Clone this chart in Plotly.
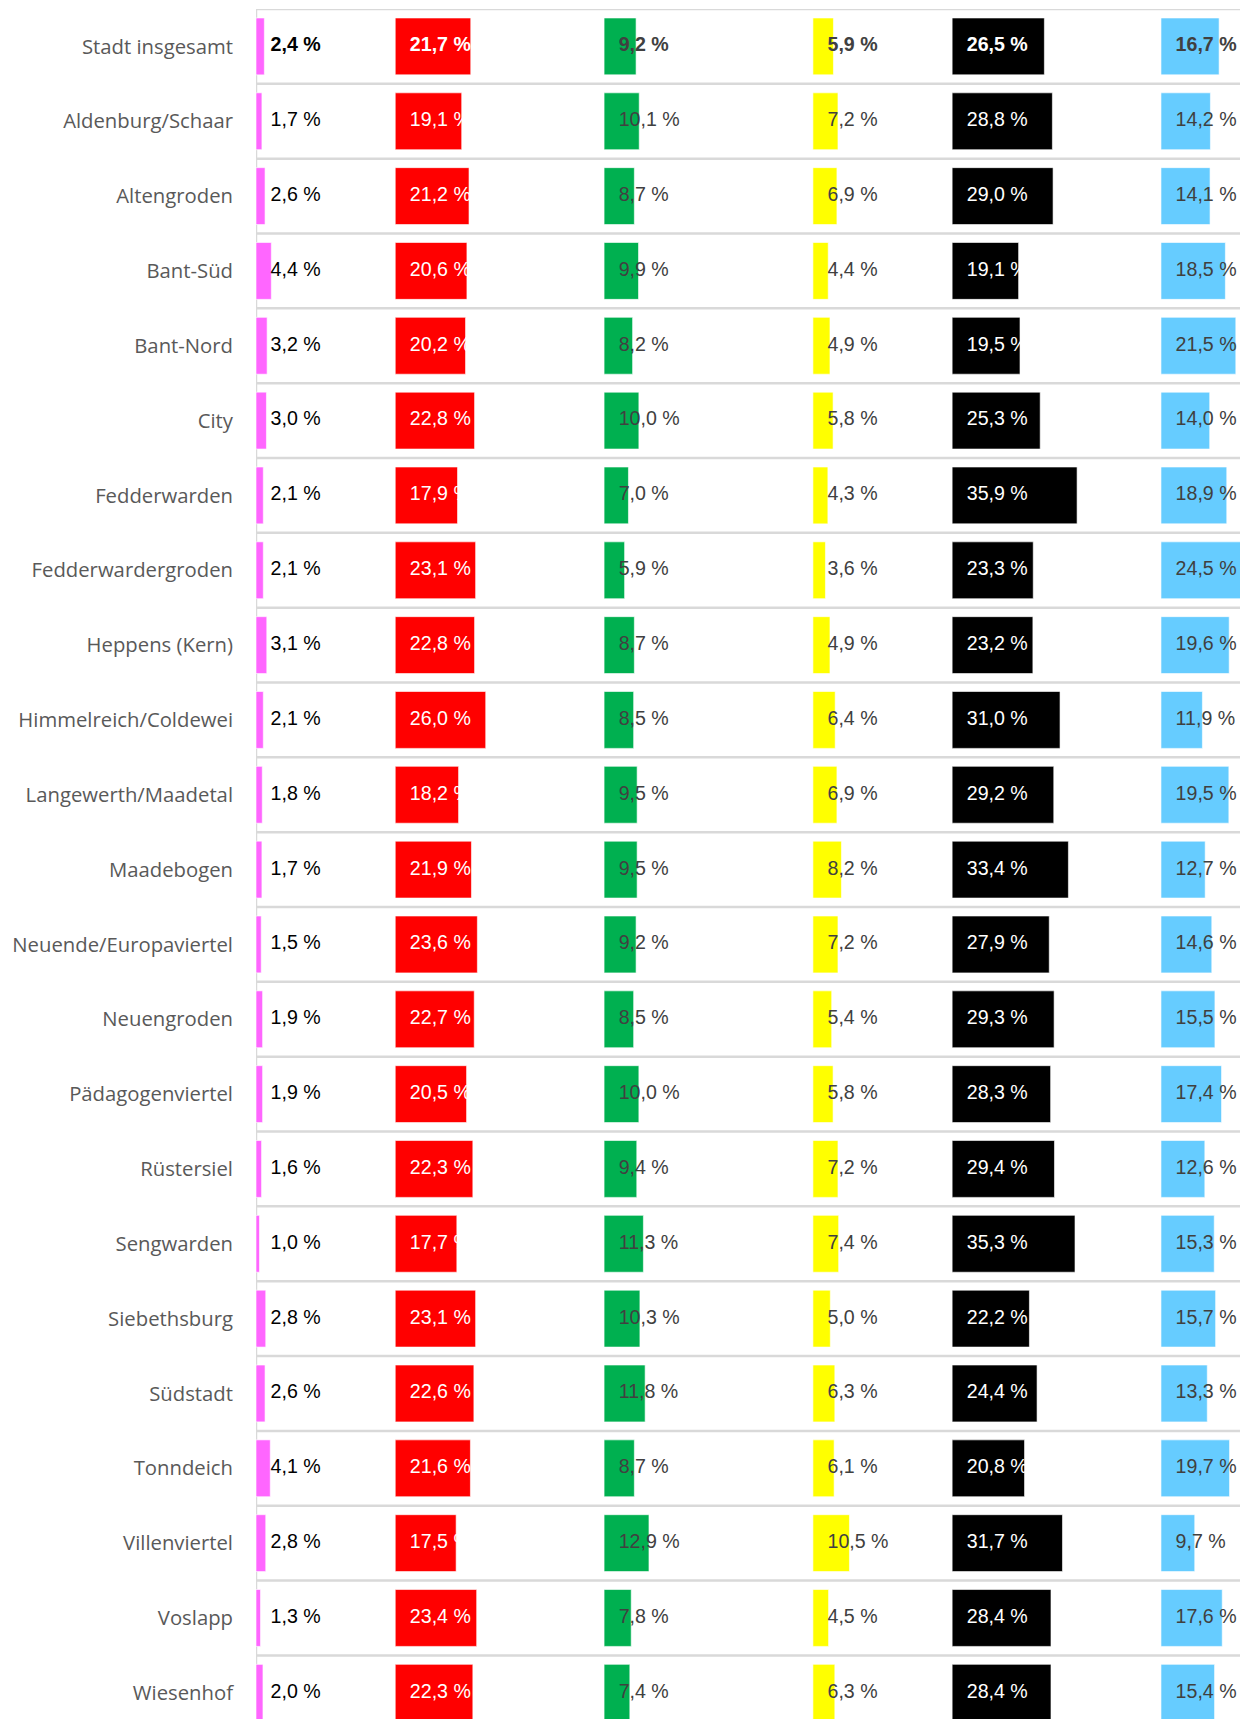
import plotly.graph_objects as go

districts = ["Stadt insgesamt", "Aldenburg/Schaar", "Altengroden", "Bant-Süd", "Bant-Nord", "City",
             "Fedderwarden", "Fedderwardergroden", "Heppens (Kern)", "Himmelreich/Coldewei",
             "Langewerth/Maadetal", "Maadebogen", "Neuende/Europaviertel", "Neuengroden",
             "Pädagogenviertel", "Rüstersiel", "Sengwarden", "Siebethsburg", "Südstadt",
             "Tonndeich", "Villenviertel", "Voslapp", "Wiesenhof"]

pink = [2.4, 1.7, 2.6, 4.4, 3.2, 3.0, 2.1, 2.1, 3.1, 2.1, 1.8, 1.7, 1.5, 1.9, 1.9, 1.6, 1.0, 2.8, 2.6, 4.1, 2.8, 1.3, 2.0]
red = [21.7, 19.1, 21.2, 20.6, 20.2, 22.8, 17.9, 23.1, 22.8, 26.0, 18.2, 21.9, 23.6, 22.7, 20.5, 22.3, 17.7, 23.1, 22.6, 21.6, 17.5, 23.4, 22.3]
green = [9.2, 10.1, 8.7, 9.9, 8.2, 10.0, 7.0, 5.9, 8.7, 8.5, 9.5, 9.5, 9.2, 8.5, 10.0, 9.4, 11.3, 10.3, 11.8, 8.7, 12.9, 7.8, 7.4]
yellow = [5.9, 7.2, 6.9, 4.4, 4.9, 5.8, 4.3, 3.6, 4.9, 6.4, 6.9, 8.2, 7.2, 5.4, 5.8, 7.2, 7.4, 5.0, 6.3, 6.1, 10.5, 4.5, 6.3]
black = [26.5, 28.8, 29.0, 19.1, 19.5, 25.3, 35.9, 23.3, 23.2, 31.0, 29.2, 33.4, 27.9, 29.3, 28.3, 29.4, 35.3, 22.2, 24.4, 20.8, 31.7, 28.4, 28.4]
blue = [16.7, 14.2, 14.1, 18.5, 21.5, 14.0, 18.9, 24.5, 19.6, 11.9, 19.5, 12.7, 14.6, 15.5, 17.4, 12.6, 15.3, 15.7, 13.3, 19.7, 9.7, 17.6, 15.4]

series = [pink, red, green, yellow, black, blue]
colors = ["#FF66FF", "#FF0000", "#00B050", "#FFFF00", "#000000", "#66CCFF"]
text_colors = ["#000000", "#FFFFFF", "#404040", "#404040", "#FFFFFF", "#404040"]
offsets = [0, 40, 100, 160, 200, 260]

n = len(districts)
idx = list(range(n))

def fmt(v, bold):
    s = f"{v:.1f}".replace(".", ",") + " %"
    return f"<b>{s}</b>" if bold else s

fig = go.Figure()
for vals, col, off in zip(series, colors, offsets):
    fig.add_trace(go.Bar(
        y=idx, x=vals, base=off, orientation="h", width=0.76,
        marker=dict(color=col, line=dict(color="rgba(255,255,255,0.6)", width=1)),
        hoverinfo="skip", showlegend=False,
    ))
for vals, tcol, off in zip(series, text_colors, offsets):
    fig.add_trace(go.Scatter(
        y=idx, x=[off + 4.2] * n, mode="text",
        text=[fmt(v, i == 0) for i, v in enumerate(vals)],
        textposition="middle right",
        textfont=dict(family="Liberation Sans, Arial, sans-serif", size=19.6, color=tcol),
        hoverinfo="skip", showlegend=False, cliponaxis=False,
    ))

shapes = []
for k in range(n + 1):
    shapes.append(dict(type="line", xref="paper", yref="y", x0=0, x1=1, y0=k - 0.5, y1=k - 0.5,
                       line=dict(color="#D9D9D9", width=2.5), layer="below"))
shapes.append(dict(type="line", xref="x", yref="paper", x0=0, x1=0, y0=0, y1=1,
                   line=dict(color="#D9D9D9", width=2.5), layer="below"))

fig.update_layout(
    width=1240, height=1711,
    margin=dict(l=248, r=0, t=1, b=0, autoexpand=False),
    paper_bgcolor="white", plot_bgcolor="white",
    barmode="overlay",
    shapes=shapes,
    xaxis=dict(range=[0, 285], visible=False, fixedrange=True),
    yaxis=dict(range=[22.35, -0.5], tickmode="array", tickvals=idx, ticktext=districts,
               showgrid=False, zeroline=False, showline=False, ticks="",
               ticklabelstandoff=22, automargin=False,
               tickfont=dict(family="Open Sans, sans-serif", size=20.3, color="#595959")),
)

fig.write_html("out.html")
